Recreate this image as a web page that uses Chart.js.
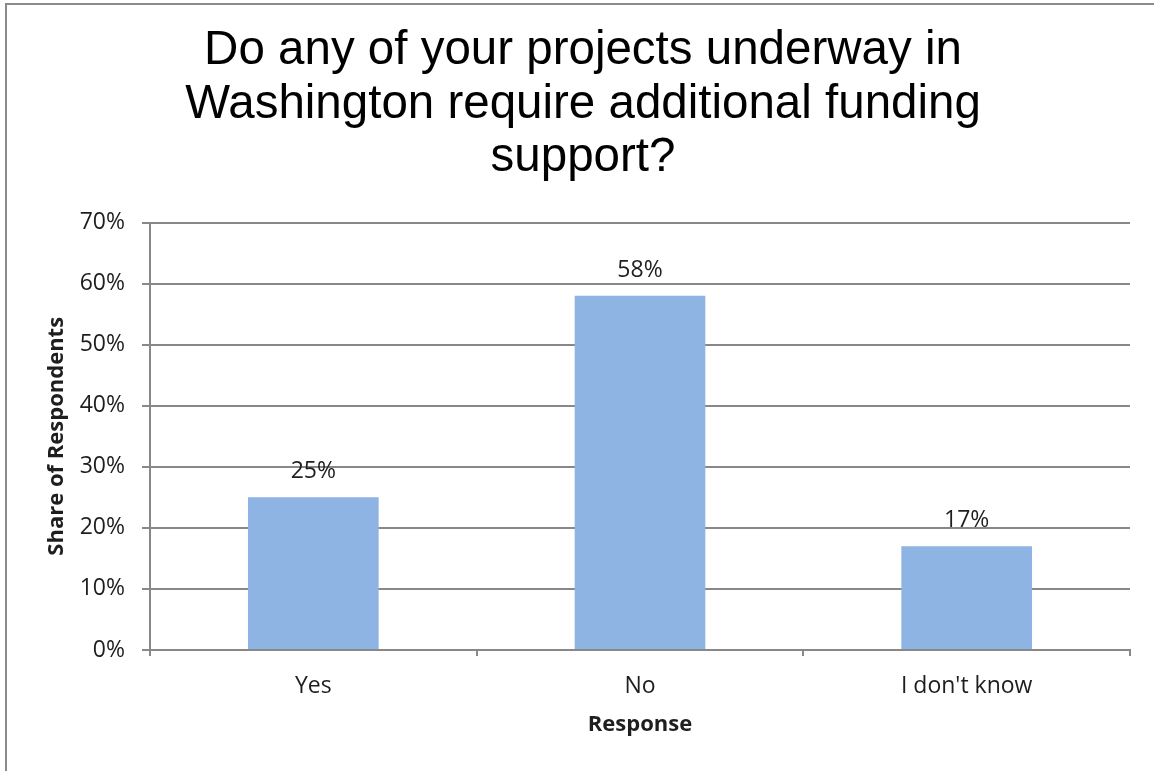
<!DOCTYPE html>
<html>
<head>
<meta charset="utf-8">
<script src="https://cdn.jsdelivr.net/npm/chart.js@4/dist/chart.umd.min.js"></script>
<style>
  html, body { margin: 0; padding: 0; background: #fff; }
  #wrap { position: relative; width: 1154px; height: 771px; overflow: hidden; }
  #frame {
    position: absolute; left: 5px; top: 3px; width: 1200px; height: 800px;
    border-left: 2px solid #8a8a8a; border-top: 2px solid #8a8a8a;
    pointer-events: none;
  }
  canvas { position: absolute; left: 0; top: 0; }
</style>
</head>
<body>
<div id="wrap">
  <canvas id="chart" width="1154" height="771"></canvas>
  <div id="frame"></div>
</div>
<script>
// Survey answers (share of respondents, in %)
const responses = ['Yes', 'No', "I don't know"];
const shares = [25, 58, 17];
const titleLines = [
  'Do any of your projects underway in',
  'Washington require additional funding',
  'support?'
];
const yMax = 70;
const yStep = 10;

const GRID = '#888888';
const BAR = '#8EB4E3';
const TEXT = '#1e1e1e';

// Write the percentage just above every bar
const barLabels = {
  id: 'barLabels',
  afterDatasetsDraw(chart) {
    const ctx = chart.ctx;
    const meta = chart.getDatasetMeta(0);
    ctx.save();
    ctx.font = '23px "Open Sans"';
    ctx.fillStyle = TEXT;
    ctx.textAlign = 'center';
    ctx.textBaseline = 'alphabetic';
    meta.data.forEach((bar, i) => {
      ctx.fillText(shares[i] + '%', bar.x, bar.y - 19);
    });
    ctx.restore();
  }
};

const ctx = document.getElementById('chart').getContext('2d');
new Chart(ctx, {
  type: 'bar',
  data: {
    labels: responses,
    datasets: [{
      data: shares,
      backgroundColor: BAR,
      borderWidth: 0,
      barPercentage: 0.4,
      categoryPercentage: 1
    }]
  },
  options: {
    responsive: false,
    animation: false,
    devicePixelRatio: 1,
    layout: { padding: { left: 36, right: 24, top: 0, bottom: 0 } },
    plugins: {
      legend: { display: false },
      tooltip: { enabled: false },
      title: {
        display: true,
        text: titleLines,
        color: '#000',
        font: { family: '"Liberation Sans", Arial', size: 47.5, weight: 'normal', lineHeight: 1.13 },
        padding: { top: 24, bottom: 37.5 }
      }
    },
    scales: {
      x: {
        offset: true,
        grid: {
          display: true,
          offset: true,
          drawOnChartArea: false,
          drawTicks: true,
          tickLength: 6,
          color: GRID,
          lineWidth: 2
        },
        border: { display: true, color: GRID, width: 2 },
        ticks: { color: TEXT, font: { family: '"Open Sans"', size: 23 }, padding: 17 },
        title: {
          display: true,
          text: 'Response',
          color: TEXT,
          font: { family: '"Open Sans"', size: 22, weight: 'bold' },
          padding: { top: 0, bottom: 33 }
        },
        afterFit(scale) { scale.height = 121; }
      },
      y: {
        min: 0,
        max: yMax,
        grid: { color: GRID, lineWidth: 2, tickLength: 8 },
        border: { display: true, color: GRID, width: 2 },
        ticks: {
          stepSize: yStep,
          color: TEXT,
          font: { family: '"Open Sans"', size: 23 },
          padding: 17,
          callback: v => v + '%'
        },
        title: {
          display: true,
          text: 'Share of Respondents',
          color: TEXT,
          font: { family: '"Open Sans"', size: 22, weight: 'bold' },
          padding: { top: 8, bottom: 0 }
        },
        afterFit(scale) { scale.width = 114; }
      }
    }
  },
  plugins: [barLabels]
});
</script>
</body>
</html>
